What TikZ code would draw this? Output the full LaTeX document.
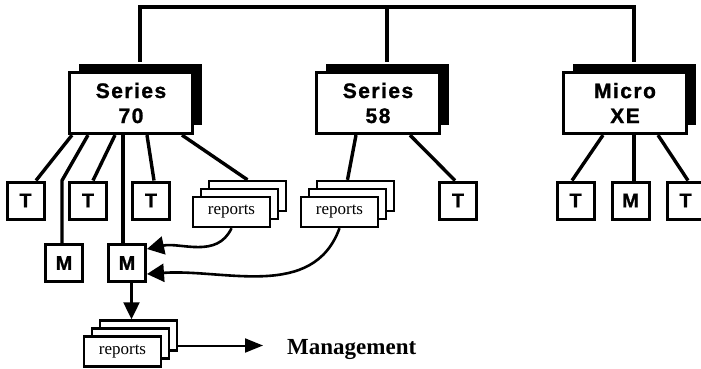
\documentclass[tikz,border=0pt]{standalone}
\usepackage{fontspec}
\setmainfont{Liberation Serif}
\setsansfont{Liberation Sans}
\usetikzlibrary{arrows.meta,shadows}

\begin{document}
\begin{tikzpicture}[x=1pt, y=-1pt,
    system/.style={draw, line width=3.2pt, fill=white, minimum width=123pt, minimum height=61pt,
      inner sep=0pt, align=center,
      font=\sffamily\bfseries\fontsize{21}{25}\selectfont\addfontfeature{LetterSpace=7,FakeBold=1.2},
      drop shadow={shadow xshift=9pt, shadow yshift=9pt, opacity=1, fill=black}},
    term/.style={draw, line width=3pt, fill=white, minimum size=37pt, inner sep=0pt,
      font=\sffamily\bfseries\fontsize{20}{20}\selectfont\addfontfeature{FakeBold=1}},
    stack/.style={draw, line width=2.4pt, fill=white, minimum width=77pt, minimum height=30pt,
      inner sep=0pt, font=\fontsize{17}{17}\selectfont,
      copy shadow={shadow xshift=16pt, shadow yshift=16pt},
      copy shadow={shadow xshift=8pt, shadow yshift=8pt}},
    link/.style={line width=3.4pt},
    feed/.style={line width=2.6pt, -{Triangle[length=17pt, width=18pt]}},
    send/.style={line width=2.2pt, -{Triangle[length=17pt, width=16pt]}}]
    \clip (0, 0) rectangle (701, 368);

    % Hosts on the bus
    \node[system] (s70) at (131, 103) {Series\\70};
    \node[system] (s58) at (378, 103) {Series\\58};
    \node[system] (mxe) at (625, 103) {Micro\\XE};
    \coordinate (bus) at (0, 7);
    \coordinate (s70top) at ([xshift=9pt, yshift=9pt]s70.north);
    \coordinate (s58top) at ([xshift=9pt, yshift=9pt]s58.north);
    \coordinate (mxetop) at ([xshift=9pt, yshift=9pt]mxe.north);
    \draw[line width=4pt] (s70top) -- (s70top |- bus) -- (mxetop |- bus) -- (mxetop);
    \draw[line width=4pt] (s58top) -- (s58top |- bus);

    % Terminals and reports
    \node[term] (t1) at (25.5, 200.5) {T};
    \node[term] (t2) at (88, 200.5) {T};
    \node[term] (t3) at (151, 200.5) {T};
    \node[term] (t4) at (458, 200.5) {T};
    \node[term] (t5) at (575.5, 200.5) {T};
    \node[term] (m3) at (630.5, 200.5) {M};
    \node[term] (t6) at (685.5, 200.5) {T};
    \node[term] (m1) at (64, 263) {M};
    \node[term] (m2) at (127, 263) {M};
    \node[stack] (r1) at (231.5, 212) {reports};
    \node[stack] (r2) at (339.5, 212) {reports};
    \node[stack] (r3) at (122.5, 351.5) {reports};
    \node[anchor=west, inner xsep=24pt, font=\bfseries\fontsize{23}{23}\selectfont] (mgmt) at (263, 349) {Management};

    % Series 70
    \draw[link] ([xshift=-59pt]s70.south) -- ([xshift=10.5pt]t1.north);
    \draw[link] ([xshift=-43pt]s70.south) -- ([xshift=-2pt]m1.north |- t1.north) -- ([xshift=-2pt]m1.north);
    \draw[link] ([xshift=-16pt]s70.south) -- ([xshift=5pt]t2.north);
    \draw[link] ([xshift=-8pt]s70.south) -- ([xshift=-4pt]m2.north);
    \draw[link] ([xshift=16pt]s70.south) -- ([xshift=3pt]t3.north);
    \draw[link] ([xshift=51pt]s70.south) -- ([xshift=16pt, yshift=16pt]r1.north);

    % Series 58
    \draw[link] ([xshift=-22pt]s58.south) -- ([xshift=8pt, yshift=16pt]r2.north);
    \draw[link] ([xshift=32pt]s58.south) -- ([xshift=-3pt]t4.north);

    % Micro XE
    \draw[link] ([xshift=-22pt]mxe.south) -- ([xshift=-3.5pt]t5.north);
    \draw[link] ([xshift=9pt]mxe.south) -- ([xshift=3.5pt]m3.north);
    \draw[link] ([xshift=33pt]mxe.south) -- ([xshift=2.5pt]t6.north);

    % Reports to management
    \draw[feed] (r1.south) to[out=-115, in=12] ([yshift=14pt]m2.east);
    \draw[feed] (r2.south) to[out=-110, in=4] ([yshift=-11pt]m2.east);
    \coordinate (r3top) at ([yshift=16pt]r3.north);
    \coordinate (r3side) at ([xshift=16pt, yshift=6pt]r3.east);
    \draw[send] ([xshift=4.5pt]m2.south) -- ([xshift=4.5pt]m2.south |- r3top);
    \draw[send, line width=2pt, -{Triangle[length=18pt, width=14pt]}] (r3side) -- (r3side -| mgmt.west);
\end{tikzpicture}
\end{document}
